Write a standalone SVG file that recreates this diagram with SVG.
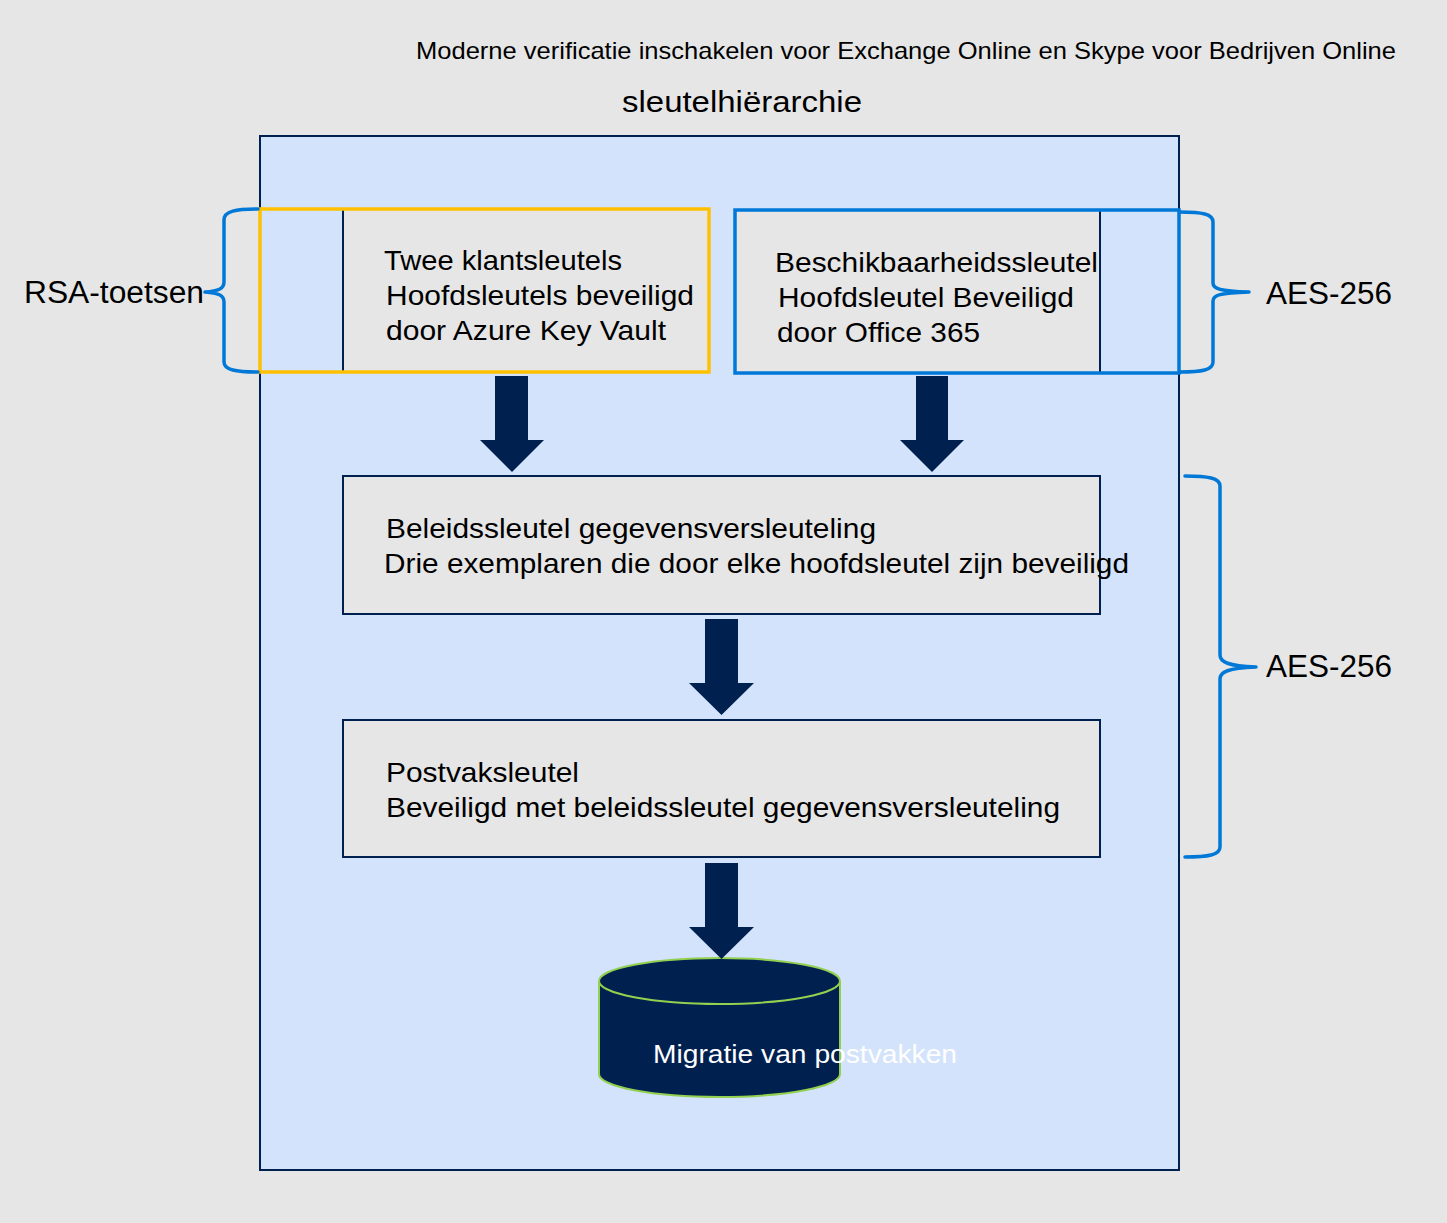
<svg xmlns="http://www.w3.org/2000/svg" width="1447" height="1223" viewBox="0 0 1447 1223">
<defs>
<style>
.t{font-family:"Liberation Sans",Arial,sans-serif;fill:#000}
.bx{font-size:28px}
.lbl{font-size:31px}
.box{fill:#e6e6e6;stroke:#002050;stroke-width:2}
.arr{fill:#002050}
.br{fill:none;stroke:#0078d7;stroke-width:3.5;stroke-linecap:round;stroke-linejoin:round}
</style>
</defs>
<rect x="0" y="0" width="1447" height="1223" fill="#e6e6e6"/>
<g id="title">
<text class="t" x="416" y="59" font-size="24" textLength="980" lengthAdjust="spacingAndGlyphs">Moderne verificatie inschakelen voor Exchange Online en Skype voor Bedrijven Online</text>
<text class="t" x="622" y="112" font-size="30" textLength="240" lengthAdjust="spacingAndGlyphs">sleutelhiërarchie</text>
</g>
<g id="container">
<rect x="260" y="136" width="919" height="1034" fill="#d3e3fc" stroke="#002050" stroke-width="2"/>
</g>
<g id="customer-keys">
<rect class="box" x="343" y="209" width="366" height="163"/>
<rect x="260" y="209" width="449" height="163" fill="none" stroke="#ffc000" stroke-width="3.5"/>
<text class="t bx" x="384" y="270" textLength="238" lengthAdjust="spacingAndGlyphs">Twee klantsleutels</text>
<text class="t bx" x="386" y="305" textLength="308" lengthAdjust="spacingAndGlyphs">Hoofdsleutels beveiligd</text>
<text class="t bx" x="386" y="340" textLength="280" lengthAdjust="spacingAndGlyphs">door Azure Key Vault</text>
</g>
<g id="availability-key">
<rect class="box" x="735" y="210" width="365" height="163"/>
<rect x="735" y="210" width="444" height="163" fill="none" stroke="#0078d7" stroke-width="3.5"/>
<text class="t bx" x="775" y="272" textLength="323" lengthAdjust="spacingAndGlyphs">Beschikbaarheidssleutel</text>
<text class="t bx" x="778" y="307" textLength="296" lengthAdjust="spacingAndGlyphs">Hoofdsleutel Beveiligd</text>
<text class="t bx" x="777" y="342" textLength="203" lengthAdjust="spacingAndGlyphs">door Office 365</text>
</g>
<g id="dep-key">
<rect class="box" x="343" y="476" width="757" height="138"/>
<text class="t bx" x="386" y="538" textLength="490" lengthAdjust="spacingAndGlyphs">Beleidssleutel gegevensversleuteling</text>
<text class="t bx" x="384" y="573" textLength="745" lengthAdjust="spacingAndGlyphs">Drie exemplaren die door elke hoofdsleutel zijn beveiligd</text>
</g>
<g id="mailbox-key">
<rect class="box" x="343" y="720" width="757" height="137"/>
<text class="t bx" x="386" y="782" textLength="193" lengthAdjust="spacingAndGlyphs">Postvaksleutel</text>
<text class="t bx" x="386" y="817" textLength="674" lengthAdjust="spacingAndGlyphs">Beveiligd met beleidssleutel gegevensversleuteling</text>
</g>
<g id="mailbox-db">
<path d="M599,981 L599,1074 A120.5,23 0 0 0 840,1074 L840,981" fill="#002050" stroke="#92d050" stroke-width="2"/>
<ellipse cx="719.5" cy="981" rx="120.5" ry="23" fill="#002050" stroke="#92d050" stroke-width="2"/>
<text x="653" y="1063" font-family="Liberation Sans,Arial,sans-serif" font-size="26" fill="#ffffff" textLength="304" lengthAdjust="spacingAndGlyphs">Migratie van postvakken</text>
</g>
<g id="labels">
<text class="t lbl" x="24" y="303" textLength="180" lengthAdjust="spacingAndGlyphs">RSA-toetsen</text>
<text class="t lbl" x="1266" y="304" textLength="126" lengthAdjust="spacingAndGlyphs">AES-256</text>
<text class="t lbl" x="1266" y="677" textLength="126" lengthAdjust="spacingAndGlyphs">AES-256</text>
</g>
<g id="connectors">
<path class="arr" d="M495,376 H528 V440 H544 L512,472 L480,440 H495 Z"/>
<path class="arr" d="M916,376 H948 V440 H964 L932,472 L900,440 H916 Z"/>
<path class="arr" d="M705,619 H738 V683 H754 L721.5,715 L689,683 H705 Z"/>
<path class="arr" d="M705,863 H738 V927 H754 L721.5,959 L689,927 H705 Z"/>
<path class="br" d="M258,209 C236,209 224,211 224,220 V282 C224,289 218,291 205,292 C218,293 224,295 224,302 V362 C224,370 236,372 258,372"/>
<path class="br" d="M1180,212 C1202,212 1213,214 1213,222 V283 C1213,289 1220,291 1249,292 C1220,293 1213,295 1213,301 V362 C1213,370 1202,372 1180,372"/>
<path class="br" d="M1185,476 C1208,476 1220,478 1220,486 V655 C1220,662 1228,666 1256,667 C1228,668 1220,672 1220,679 V847 C1220,855 1208,857 1185,857"/>
</g>
</svg>
